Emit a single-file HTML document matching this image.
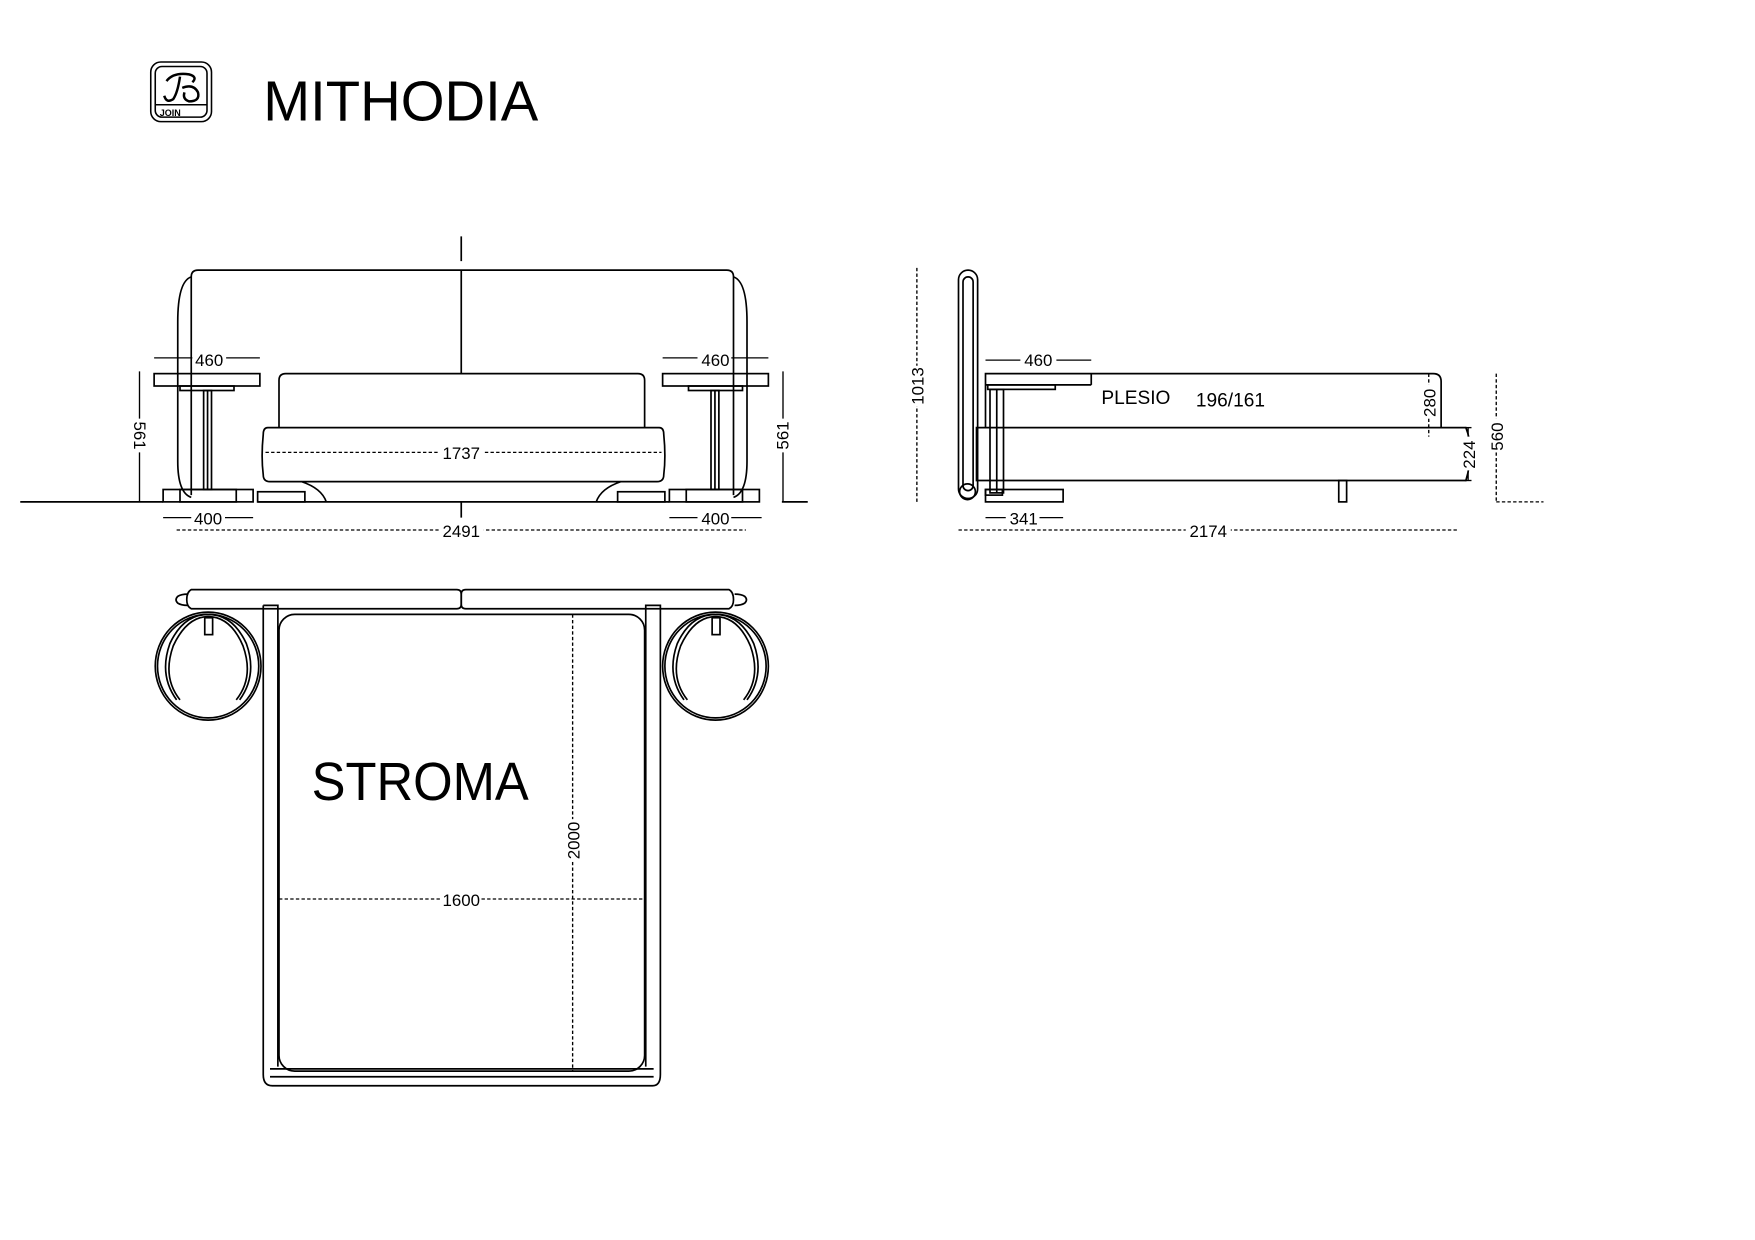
<!DOCTYPE html>
<html><head><meta charset="utf-8"><style>
html,body{margin:0;padding:0;background:#fff;width:1755px;height:1240px;overflow:hidden}
svg{display:block}
text{font-family:"Liberation Sans",sans-serif;fill:#000}
</style></head><body>
<svg width="1755" height="1240" viewBox="0 0 1560 1102" xmlns="http://www.w3.org/2000/svg">
<g fill="none" stroke="#000" stroke-width="1.4">
<rect x="134" y="55" width="54" height="53" rx="9"/>
<rect x="138" y="59" width="46" height="45" rx="6"/>
<line x1="138" y1="93" x2="184" y2="93"/>
<path d="M148 72 q6 -8 20 -6 q8 2 3 7 M160 68 q-2 14 -6 20 q-6 4 -8 -3 M162 78 q10 -4 14 4 q2 8 -8 8 q-6 -2 -4 -8" stroke-width="2.2"/>
</g>
<text x="142" y="103" font-size="8" font-weight="bold">JOIN</text>
<text x="234" y="107" font-size="50">MITHODIA</text>

<g fill="none" stroke="#000" stroke-width="1.5">
<line x1="410" y1="210" x2="410" y2="232"/>
<path d="M170 440 V246 q0 -6 6 -6 H646 q6 0 6 6 V440"/>
<path d="M170 246 q-12 4 -12 40 V410 q0 28 12 32"/>
<path d="M652 246 q12 4 12 40 V410 q0 28 -12 32"/>
<line x1="410" y1="240" x2="410" y2="332"/>
<path d="M248 380 V338 q0 -6 6 -6 H567 q6 0 6 6 V380"/>
<path d="M238 380 H586 q4 0 4 6 q2 20 0 36 q0 6 -6 6 H240 q-6 0 -6 -6 q-2 -16 0 -36 q0 -6 4 -6z"/>
<path d="M268 428 q18 6 22 18 M552 428 q-18 6 -22 18"/>
<line x1="18" y1="446" x2="145" y2="446"/>
<line x1="229" y1="446" x2="595" y2="446"/>
<line x1="695" y1="446" x2="718" y2="446"/>
<line x1="410" y1="446" x2="410" y2="460"/>
<rect x="137" y="332" width="94" height="11"/>
<rect x="160" y="343" width="48" height="4"/>
<rect x="181" y="347" width="7" height="88"/>
<line x1="184.5" y1="347" x2="184.5" y2="435"/>
<rect x="145" y="435" width="80" height="11"/>
<rect x="160" y="435" width="50" height="11"/>
<rect x="229" y="437" width="42" height="9"/>
<line x1="137" y1="318" x2="231" y2="318" stroke-width="1.2"/>
<line x1="124" y1="330" x2="124" y2="446" stroke-width="1.2"/>
<rect x="589" y="332" width="94" height="11"/>
<rect x="612" y="343" width="48" height="4"/>
<rect x="632" y="347" width="7" height="88"/>
<line x1="635.5" y1="347" x2="635.5" y2="435"/>
<rect x="595" y="435" width="80" height="11"/>
<rect x="610" y="435" width="50" height="11"/>
<rect x="549" y="437" width="42" height="9"/>
<line x1="589" y1="318" x2="683" y2="318" stroke-width="1.2"/>
<line x1="696" y1="330" x2="696" y2="446" stroke-width="1.2"/>
<line x1="145" y1="460" x2="225" y2="460" stroke-width="1.2"/>
<line x1="595" y1="460" x2="677" y2="460" stroke-width="1.2"/>
</g>
<g fill="none" stroke="#000" stroke-width="1.2" stroke-dasharray="3,2">
<line x1="236" y1="402" x2="588" y2="402"/>
<line x1="157" y1="471" x2="663" y2="471"/>
</g>
<g font-size="15" text-anchor="middle">
<rect x="171" y="310" width="30" height="16" fill="#fff"/>
<text x="186" y="325">460</text>
<rect x="620" y="310" width="30" height="16" fill="#fff"/>
<text x="636" y="325">460</text>
<rect x="390" y="394" width="40" height="16" fill="#fff"/>
<text x="410" y="408">1737</text>
<rect x="170" y="452" width="30" height="16" fill="#fff"/>
<text x="185" y="466">400</text>
<rect x="620" y="452" width="30" height="16" fill="#fff"/>
<text x="636" y="466">400</text>
<rect x="390" y="463" width="40" height="16" fill="#fff"/>
<text x="410" y="477">2491</text>
<rect x="117" y="372" width="16" height="30" fill="#fff"/>
<text transform="translate(119,387) rotate(90)" >561</text>
<rect x="688" y="372" width="16" height="30" fill="#fff"/>
<text transform="translate(701,387) rotate(-90)">561</text>
</g>

<g fill="none" stroke="#000" stroke-width="1.5">
<rect x="852" y="240" width="17" height="203" rx="8.5"/>
<rect x="856" y="246" width="9" height="190" rx="4.5"/>
<circle cx="860" cy="437" r="7"/>
<path d="M876 380 V332 H1274 q7 0 7 7 V380"/>
<line x1="876" y1="342" x2="970" y2="342"/>
<line x1="970" y1="332" x2="970" y2="342"/>
<rect x="878" y="342" width="60" height="4"/>
<rect x="880" y="346" width="12" height="92"/>
<line x1="886" y1="346" x2="886" y2="438"/>
<path d="M868 380 H1303 q8 20 0 47 H868z"/>
<rect x="1190" y="427" width="7" height="19"/>
<rect x="876" y="435" width="69" height="11"/>
<rect x="876" y="435" width="15" height="5"/>
<line x1="876" y1="320" x2="970" y2="320" stroke-width="1.2"/>
<line x1="876" y1="460" x2="945" y2="460" stroke-width="1.2"/>
<line x1="1305" y1="380" x2="1305" y2="427" stroke-width="1.2"/>
<line x1="1302" y1="380" x2="1308" y2="380" stroke-width="1.2"/>
<line x1="1302" y1="427" x2="1308" y2="427" stroke-width="1.2"/>
</g>
<g fill="none" stroke="#000" stroke-width="1.2" stroke-dasharray="3,2">
<line x1="815" y1="238" x2="815" y2="446"/>
<line x1="852" y1="471" x2="1296" y2="471"/>
<line x1="1270" y1="332" x2="1270" y2="388"/>
<line x1="1330" y1="332" x2="1330" y2="446"/>
<line x1="1330" y1="446" x2="1372" y2="446"/>
</g>
<g font-size="15" text-anchor="middle">
<rect x="907" y="310" width="32" height="16" fill="#fff"/>
<text x="923" y="325">460</text>
<rect x="894" y="452" width="30" height="16" fill="#fff"/>
<text x="910" y="466">341</text>
<rect x="1054" y="463" width="40" height="16" fill="#fff"/>
<text x="1074" y="477">2174</text>
<rect x="807" y="325" width="16" height="36" fill="#fff"/>
<text transform="translate(821,343) rotate(-90)">1013</text>
<rect x="1262" y="342" width="16" height="30" fill="#fff"/>
<text transform="translate(1276,358) rotate(-90)">280</text>
<rect x="1297" y="388" width="16" height="30" fill="#fff"/>
<text transform="translate(1311,404) rotate(-90)">224</text>
<rect x="1322" y="372" width="16" height="30" fill="#fff"/>
<text transform="translate(1336,388) rotate(-90)">560</text>
</g>
<text x="979" y="359" font-size="17">PLESIO</text>
<text x="1063" y="361" font-size="17">196/161</text>

<g fill="none" stroke="#000" stroke-width="1.5">
<path d="M170 524 H406 q4 0 4 4 V537 q0 4 -4 4 H170 q-4 -2 -4 -8 q0 -7 4 -9z"/>
<path d="M414 524 H648 q4 2 4 9 q0 6 -4 8 H414 q-4 0 -4 -4 V528 q0 -4 4 -4z"/>
<path d="M167 528 q-6 0 -9 2 q-3 3 0 6 q3 2 9 2"/>
<path d="M653 528 q6 0 9 2 q3 3 0 6 q-3 2 -9 2"/>
<path d="M234 538 H247 V948 M234 538 V955 q0 10 8 10 H580 q7 0 7 -10 V538 H574 V948"/>
<line x1="240" y1="950" x2="581" y2="950"/>
<line x1="240" y1="957" x2="581" y2="957"/>
<rect x="248" y="546" width="325" height="406" rx="14"/>
<ellipse cx="185" cy="592" rx="47" ry="48"/>
<ellipse cx="185" cy="592" rx="45" ry="46"/>
<path d="M160 622 q-16 -20 -6 -48 q12 -26 31 -26 q20 0 31 26 q10 28 -6 48"/>
<path d="M157 622 q-16 -22 -6 -50 q12 -26 34 -26 q22 0 34 26 q10 28 -6 50"/>
<rect x="182" y="549" width="7" height="15"/>
<ellipse cx="636" cy="592" rx="47" ry="48"/>
<ellipse cx="636" cy="592" rx="45" ry="46"/>
<path d="M611 622 q-16 -20 -6 -48 q12 -26 31 -26 q20 0 31 26 q10 28 -6 48"/>
<path d="M608 622 q-16 -22 -6 -50 q12 -26 34 -26 q22 0 34 26 q10 28 -6 50"/>
<rect x="633" y="549" width="7" height="15"/>
</g>
<g fill="none" stroke="#000" stroke-width="1.2" stroke-dasharray="3,2">
<line x1="509" y1="546" x2="509" y2="952"/>
<line x1="248" y1="799" x2="573" y2="799"/>
</g>
<g font-size="15" text-anchor="middle">
<rect x="392" y="791" width="36" height="16" fill="#fff"/>
<text x="410" y="805">1600</text>
<rect x="501" y="728" width="16" height="38" fill="#fff"/>
<text transform="translate(515,747) rotate(-90)">2000</text>
</g>
<text x="277" y="711" font-size="48" textLength="193" lengthAdjust="spacingAndGlyphs">STROMA</text>
</svg>
</body></html>
